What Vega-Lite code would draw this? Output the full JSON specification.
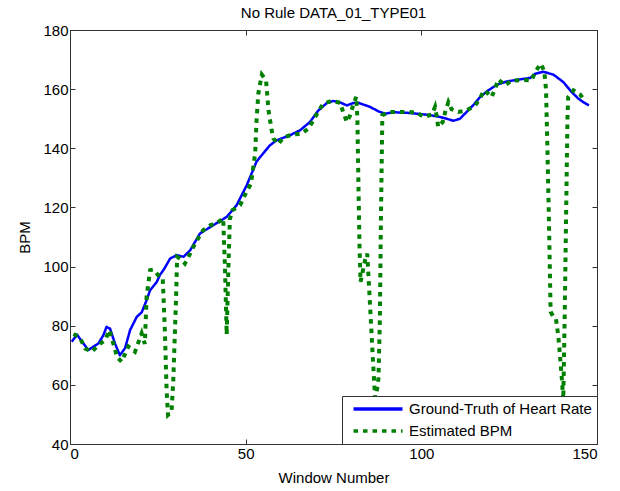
{
  "$schema": "https://vega.github.io/schema/vega-lite/v6.json",
  "width": 527,
  "height": 414,
  "autosize": "none",
  "padding": {"left": 70, "top": 30, "right": 23, "bottom": 47},
  "background": "white",
  "title": {"text": "No Rule DATA_01_TYPE01", "fontSize": 15, "fontWeight": "normal", "font": "Liberation Sans", "color": "#000000", "offset": 2},
  "datasets": {
    "gt": [
      {"w": 0.5, "bpm": 74.6}, {"w": 2, "bpm": 77}, {"w": 3.3, "bpm": 74.8}, {"w": 5.2, "bpm": 71.8}, {"w": 8.1, "bpm": 74},
      {"w": 9.5, "bpm": 76.8}, {"w": 10.4, "bpm": 79.6}, {"w": 11.4, "bpm": 79}, {"w": 12.8, "bpm": 74}, {"w": 14.2, "bpm": 70},
      {"w": 15.7, "bpm": 72.5}, {"w": 17.1, "bpm": 78.5}, {"w": 19, "bpm": 83}, {"w": 20.4, "bpm": 84.5}, {"w": 21.8, "bpm": 88.6},
      {"w": 22.8, "bpm": 92}, {"w": 24.7, "bpm": 94.8}, {"w": 25.6, "bpm": 97.2}, {"w": 26.6, "bpm": 98.8}, {"w": 28.5, "bpm": 102.7},
      {"w": 30.4, "bpm": 103.9}, {"w": 32.3, "bpm": 103.3}, {"w": 34.2, "bpm": 105.5}, {"w": 37, "bpm": 111.2}, {"w": 40.8, "bpm": 114},
      {"w": 44.6, "bpm": 116.8}, {"w": 47.4, "bpm": 120.7}, {"w": 50.3, "bpm": 127.5}, {"w": 53.1, "bpm": 135.5}, {"w": 54.1, "bpm": 137},
      {"w": 56.9, "bpm": 141}, {"w": 58.8, "bpm": 142.7}, {"w": 62.6, "bpm": 144.4}, {"w": 65.5, "bpm": 146.1}, {"w": 68.3, "bpm": 148.9},
      {"w": 70.7, "bpm": 152.8}, {"w": 73.1, "bpm": 155.3}, {"w": 74.9, "bpm": 156}, {"w": 76.9, "bpm": 155.5}, {"w": 78.8, "bpm": 154.5},
      {"w": 80.6, "bpm": 155.3}, {"w": 82.3, "bpm": 155.3}, {"w": 85.4, "bpm": 154}, {"w": 87.8, "bpm": 152.5}, {"w": 89.7, "bpm": 151.7},
      {"w": 92, "bpm": 152.2}, {"w": 96, "bpm": 152}, {"w": 99.6, "bpm": 151.6}, {"w": 102.5, "bpm": 151.2}, {"w": 105.3, "bpm": 150.6},
      {"w": 107.2, "bpm": 150}, {"w": 109.1, "bpm": 149.3}, {"w": 111, "bpm": 150}, {"w": 112.9, "bpm": 152.3}, {"w": 114.8, "bpm": 154.6},
      {"w": 116.7, "bpm": 157.3}, {"w": 118.6, "bpm": 159.2}, {"w": 121.5, "bpm": 161.5}, {"w": 124.3, "bpm": 162.6}, {"w": 128.1, "bpm": 163.3},
      {"w": 131, "bpm": 163.8}, {"w": 132.4, "bpm": 165.2}, {"w": 134.7, "bpm": 165.9}, {"w": 137.6, "bpm": 164.9}, {"w": 140.4, "bpm": 162.4},
      {"w": 142.8, "bpm": 159}, {"w": 144.7, "bpm": 156.8}, {"w": 146.1, "bpm": 155.6}, {"w": 147.7, "bpm": 154.5}
    ],
    "est": [
      {"w": 1, "bpm": 77.2}, {"w": 2.8, "bpm": 76}, {"w": 4.3, "bpm": 72.3}, {"w": 6.2, "bpm": 71.2}, {"w": 8.1, "bpm": 73.5},
      {"w": 10, "bpm": 75.1}, {"w": 11.2, "bpm": 78.5}, {"w": 11.9, "bpm": 75.5}, {"w": 12.8, "bpm": 72.3}, {"w": 13.3, "bpm": 69.5},
      {"w": 14.7, "bpm": 67.8}, {"w": 16.6, "bpm": 73}, {"w": 18.5, "bpm": 71.2}, {"w": 20.4, "bpm": 77.4}, {"w": 21.3, "bpm": 73.8},
      {"w": 21.8, "bpm": 89.8}, {"w": 22.8, "bpm": 98.8}, {"w": 23.7, "bpm": 99}, {"w": 25.1, "bpm": 97.1}, {"w": 26.4, "bpm": 96},
      {"w": 27, "bpm": 78.5}, {"w": 27.5, "bpm": 58}, {"w": 27.9, "bpm": 49.8}, {"w": 28.9, "bpm": 50.9}, {"w": 29.4, "bpm": 61.6},
      {"w": 30.2, "bpm": 89.8}, {"w": 30.5, "bpm": 103.3}, {"w": 31.3, "bpm": 102.7}, {"w": 32.7, "bpm": 101}, {"w": 34.2, "bpm": 104.4},
      {"w": 35.6, "bpm": 107.8}, {"w": 37.9, "bpm": 112.3}, {"w": 40, "bpm": 114}, {"w": 41.7, "bpm": 114.6}, {"w": 43.6, "bpm": 116.3},
      {"w": 44.1, "bpm": 100}, {"w": 44.6, "bpm": 77}, {"w": 45.1, "bpm": 100}, {"w": 45.5, "bpm": 116}, {"w": 46.2, "bpm": 119},
      {"w": 48.4, "bpm": 120.7}, {"w": 50.3, "bpm": 125.5}, {"w": 51.5, "bpm": 128}, {"w": 52.7, "bpm": 138.2}, {"w": 53.1, "bpm": 149.5},
      {"w": 53.6, "bpm": 158.5}, {"w": 54.6, "bpm": 164.9}, {"w": 55.8, "bpm": 163}, {"w": 56.5, "bpm": 152.8}, {"w": 57.4, "bpm": 146.1},
      {"w": 57.9, "bpm": 143.3}, {"w": 59.3, "bpm": 141.4}, {"w": 60.7, "bpm": 143.6}, {"w": 63.4, "bpm": 144.7}, {"w": 65.9, "bpm": 144.9},
      {"w": 67.8, "bpm": 146.6}, {"w": 69.3, "bpm": 149.5}, {"w": 70.7, "bpm": 152.6}, {"w": 72.1, "bpm": 155.1}, {"w": 74.5, "bpm": 156},
      {"w": 76.9, "bpm": 155.4}, {"w": 77.8, "bpm": 152}, {"w": 78.8, "bpm": 148.9}, {"w": 79.7, "bpm": 151.1}, {"w": 80.6, "bpm": 154.5},
      {"w": 81.5, "bpm": 157.5}, {"w": 81.8, "bpm": 150}, {"w": 82.1, "bpm": 127.5}, {"w": 82.4, "bpm": 107.2}, {"w": 82.7, "bpm": 94.8},
      {"w": 83.3, "bpm": 98.2}, {"w": 84, "bpm": 102.2}, {"w": 84.6, "bpm": 104.4}, {"w": 85.2, "bpm": 91.4}, {"w": 86.1, "bpm": 71.2},
      {"w": 86.9, "bpm": 54}, {"w": 87.8, "bpm": 62.2}, {"w": 88.2, "bpm": 82.5}, {"w": 88.5, "bpm": 116.2}, {"w": 88.9, "bpm": 151.2},
      {"w": 91.1, "bpm": 152.3}, {"w": 93.5, "bpm": 152.3}, {"w": 96.3, "bpm": 152.3}, {"w": 98.9, "bpm": 152}, {"w": 100.6, "bpm": 150.6},
      {"w": 103, "bpm": 151.4}, {"w": 103.9, "bpm": 154}, {"w": 104.4, "bpm": 150.6}, {"w": 104.8, "bpm": 147.2}, {"w": 106.1, "bpm": 148.9},
      {"w": 106.8, "bpm": 152.3}, {"w": 107.7, "bpm": 155.6}, {"w": 108.6, "bpm": 153.2}, {"w": 110.5, "bpm": 152.3}, {"w": 112.9, "bpm": 152.8},
      {"w": 115.3, "bpm": 154.5}, {"w": 116.7, "bpm": 156.8}, {"w": 117.8, "bpm": 159.6}, {"w": 119, "bpm": 158.5}, {"w": 120, "bpm": 157.3},
      {"w": 121, "bpm": 160.2}, {"w": 121.9, "bpm": 163.3}, {"w": 123.8, "bpm": 161.3}, {"w": 125.7, "bpm": 162.9}, {"w": 128.6, "bpm": 163.1},
      {"w": 131.4, "bpm": 163}, {"w": 132.4, "bpm": 165.8}, {"w": 134, "bpm": 168.6}, {"w": 135, "bpm": 166.1}, {"w": 135.5, "bpm": 159.6},
      {"w": 135.9, "bpm": 139.3}, {"w": 136.3, "bpm": 116.8}, {"w": 136.8, "bpm": 84.7}, {"w": 137.6, "bpm": 83}, {"w": 138.3, "bpm": 82.5},
      {"w": 139, "bpm": 76.3}, {"w": 139.5, "bpm": 69.5}, {"w": 140, "bpm": 62}, {"w": 140.4, "bpm": 55}, {"w": 140.8, "bpm": 83},
      {"w": 141.2, "bpm": 116.8}, {"w": 141.6, "bpm": 150.6}, {"w": 141.8, "bpm": 157.3}, {"w": 143.3, "bpm": 159.6}, {"w": 145.2, "bpm": 158.2},
      {"w": 146.6, "bpm": 156}
    ]
  },
  "layer": [
    {
      "data": {"name": "gt"},
      "transform": [{"calculate": "'Ground-Truth of Heart Rate'", "as": "series"}],
      "mark": {"type": "line", "strokeWidth": 2.5, "strokeJoin": "round"},
      "encoding": {
        "x": {"field": "w", "type": "quantitative", "scale": {"domain": [0, 150], "nice": false, "zero": false},
              "axis": {"values": [0, 50, 100, 150], "title": "Window Number", "titlePadding": 9}},
        "y": {"field": "bpm", "type": "quantitative", "scale": {"domain": [40, 180], "nice": false, "zero": false},
              "axis": {"values": [40, 60, 80, 100, 120, 140, 160, 180], "title": "BPM", "titlePadding": 10}},
        "color": {"field": "series", "type": "nominal",
                  "scale": {"domain": ["Ground-Truth of Heart Rate", "Estimated BPM"], "range": ["#0000ff", "#008000"]},
                  "legend": {"title": null}},
        "strokeDash": {"field": "series", "type": "nominal",
                  "scale": {"domain": ["Ground-Truth of Heart Rate", "Estimated BPM"], "range": [[1, 0], [4.5, 5]]},
                  "legend": {"title": null}}
      }
    },
    {
      "data": {"name": "est"},
      "transform": [{"calculate": "'Estimated BPM'", "as": "series"}],
      "mark": {"type": "line", "strokeWidth": 4, "strokeCap": "butt"},
      "encoding": {
        "x": {"field": "w", "type": "quantitative", "axis": {"values": [0, 50, 100, 150], "labels": false, "title": null}},
        "y": {"field": "bpm", "type": "quantitative", "axis": {"values": [40, 60, 80, 100, 120, 140, 160, 180], "labels": false, "title": null}},
        "color": {"field": "series", "type": "nominal", "legend": {"title": null}},
        "strokeDash": {"field": "series", "type": "nominal", "legend": {"title": null}}
      }
    }
  ],
  "resolve": {"axis": {"x": "independent", "y": "independent"}},
  "config": {
    "view": {"stroke": "#333333", "strokeWidth": 1},
    "axis": {
      "grid": false,
      "domainColor": "#333333",
      "tickColor": "#333333",
      "tickSize": -5,
      "labelPadding": 7,
      "labelFont": "Liberation Sans",
      "labelFontSize": 15,
      "labelColor": "#000000",
      "titleFont": "Liberation Sans",
      "titleFontSize": 15,
      "titleFontWeight": "normal",
      "titleColor": "#000000"
    },
    "legend": {
      "orient": "bottom-right",
      "offset": 0,
      "symbolType": "M-4,0H4",
      "symbolSize": 150,
      "symbolStrokeWidth": 3.5,
      "labelFont": "Liberation Sans",
      "labelFontSize": 15,
      "labelColor": "#000000",
      "labelLimit": 400,
      "fillColor": "white",
      "strokeColor": "#333333",
      "padding": 5,
      "symbolOffset": 23,
      "labelOffset": 23,
      "rowPadding": 6
    }
  }
}
